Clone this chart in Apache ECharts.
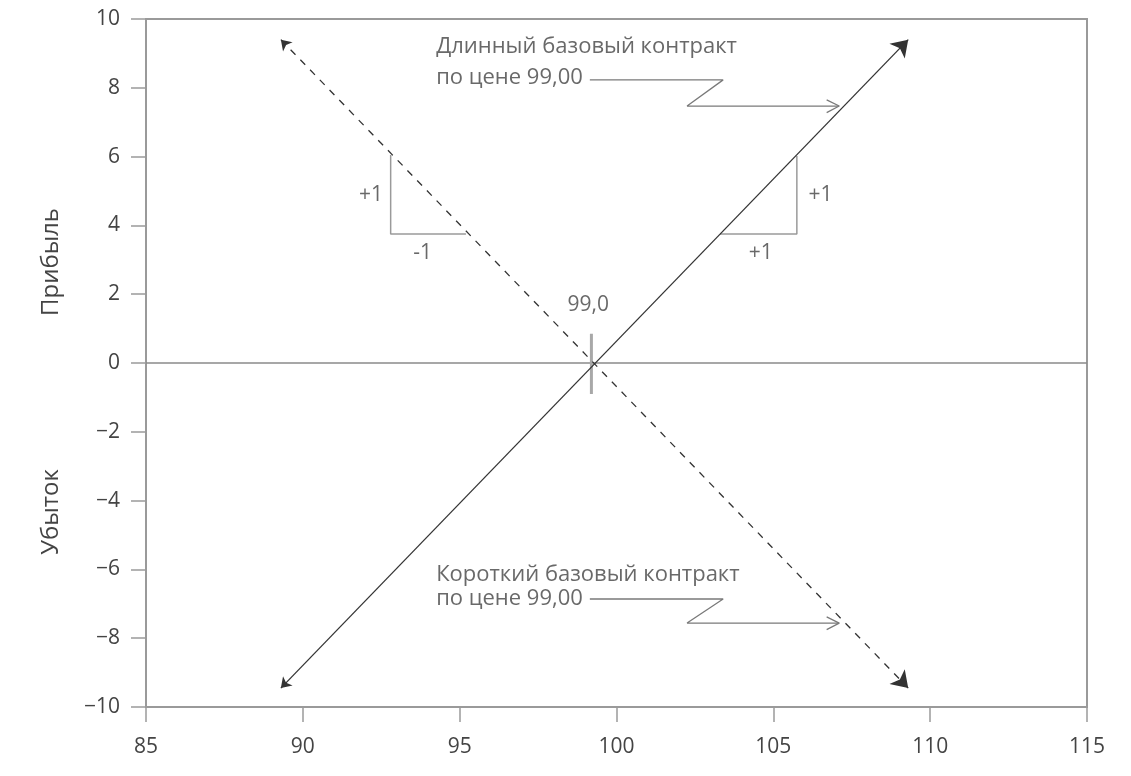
<!DOCTYPE html>
<html><head><meta charset="utf-8">
<script src="https://cdn.jsdelivr.net/npm/echarts@6/dist/echarts.min.js"></script>
<style>html,body{margin:0;padding:0;background:#fff}#c{width:1131px;height:776px}</style>
</head><body><div id="c"></div>
<script>
const xTicks = [85, 90, 95, 100, 105, 110, 115];
const yTicks = [-10, -8, -6, -4, -2, 0, 2, 4, 6, 8, 10];
const longLine = [[89.3, -9.45], [109.3, 9.4]];
const shortLine = [[89.3, 9.4], [109.3, -9.45]];
const zeroLine = [[85, 0], [115, 0]];
const strikeMark = [[99.2, 0.85], [99.2, -0.9]];
const leftTriangle = [[92.8, 6.05], [92.8, 3.75], [95.2, 3.75]];
const rightTriangle = [[103.3, 3.75], [105.75, 3.75], [105.75, 6.02]];
const longCallout = [[99.15, 8.23], [103.4, 8.23], [102.25, 7.47], [107.1, 7.47]];
const longChevron = [[106.7, 7.65], [107.1, 7.47], [106.7, 7.28]];
const shortCallout = [[99.15, -6.86], [103.4, -6.86], [102.25, -7.56], [107.1, -7.56]];
const shortChevron = [[106.7, -7.38], [107.1, -7.56], [106.7, -7.75]];
const noteLabels = [
  {x: 94.25, y: 9.2, text: 'Длинный базовый контракт', align: 'left', size: 22},
  {x: 94.25, y: 8.3, text: 'по цене 99,00', align: 'left', size: 22},
  {x: 94.25, y: -6.16, text: 'Короткий базовый контракт', align: 'left', size: 22},
  {x: 94.25, y: -6.86, text: 'по цене 99,00', align: 'left', size: 22},
  {x: 99.1, y: 1.69, text: '99,0', align: 'center', size: 21},
  {x: 92.17, y: 4.88, text: '+1', align: 'center', size: 21},
  {x: 93.82, y: 3.2, text: '-1', align: 'center', size: 21},
  {x: 106.5, y: 4.88, text: '+1', align: 'center', size: 21},
  {x: 104.6, y: 3.2, text: '+1', align: 'center', size: 21}
];
const yNames = ['Прибыль', 'Убыток'];

const FONT = '"Open Sans", "Noto Sans", sans-serif';
const TXT = '#444';
const AX = '#9a9a9a';

function seg(data, color, width, type) {
  return {type: 'line', data: data, symbol: 'none', silent: true, animation: false,
    lineStyle: {color: color, width: width, type: type || 'solid'}, z: 3};
}

const chart = echarts.init(document.getElementById('c'));
chart.setOption({
  animation: false,
  grid: {left: 146, right: 44, top: 19, bottom: 69, show: true, borderColor: AX, borderWidth: 2},
  xAxis: {type: 'value', min: 85, max: 115, interval: 5,
    axisLine: {show: true, onZero: false, lineStyle: {color: AX, width: 2}},
    axisTick: {show: true, length: 15, lineStyle: {color: AX, width: 1.5}},
    splitLine: {show: false},
    axisLabel: {margin: 30, color: TXT, fontFamily: FONT, fontSize: 21,
      formatter: v => xTicks.includes(v) ? String(v) : ''}},
  yAxis: {type: 'value', min: -10, max: 10, interval: 2,
    axisLine: {show: true, onZero: false, lineStyle: {color: AX, width: 2}},
    axisTick: {show: true, length: 15, lineStyle: {color: AX, width: 1.5}},
    splitLine: {show: false},
    axisLabel: {margin: 26, color: TXT, fontFamily: FONT, fontSize: 21,
      formatter: v => yTicks.includes(v) ? String(v).replace('-', '\u2212') : ''}},
  graphic: [
    {type: 'text', x: 51, y: 262, rotation: Math.PI / 2, style: {text: yNames[0], fill: TXT, font: '24px ' + FONT, align: 'center', verticalAlign: 'middle'}},
    {type: 'text', x: 51, y: 512, rotation: Math.PI / 2, style: {text: yNames[1], fill: TXT, font: '24px ' + FONT, align: 'center', verticalAlign: 'middle'}}
  ],
  series: [
    seg(zeroLine, '#8a8a8a', 1.5),
    seg(strikeMark, '#a8a8a8', 3),
    seg(leftTriangle, '#9a9a9a', 1.5),
    seg(rightTriangle, '#9a9a9a', 1.5),
    seg(longCallout, '#7a7a7a', 1.3),
    seg(longChevron, '#7a7a7a', 1.3),
    seg(shortCallout, '#7a7a7a', 1.3),
    seg(shortChevron, '#7a7a7a', 1.3),
    {type: 'lines', coordinateSystem: 'cartesian2d', silent: true, animation: false, z: 4,
      symbol: ['arrow', 'arrow'], symbolSize: [10, 16],
      lineStyle: {color: '#333', width: 1.3, type: 'solid', opacity: 1},
      data: [{coords: longLine}]},
    {type: 'lines', coordinateSystem: 'cartesian2d', silent: true, animation: false, z: 4,
      symbol: ['arrow', 'arrow'], symbolSize: [10, 16],
      lineStyle: {color: '#333', width: 1.3, type: [7, 7], opacity: 1},
      data: [{coords: shortLine}]},
    {type: 'scatter', symbolSize: 0, silent: true, animation: false, z: 5,
      data: noteLabels.map(d => ({value: [d.x, d.y],
        label: {show: true, position: 'inside', formatter: d.text, align: d.align, verticalAlign: 'middle',
          color: TXT, fontFamily: FONT, fontSize: d.size}}))}
  ]
});
</script></body></html>
